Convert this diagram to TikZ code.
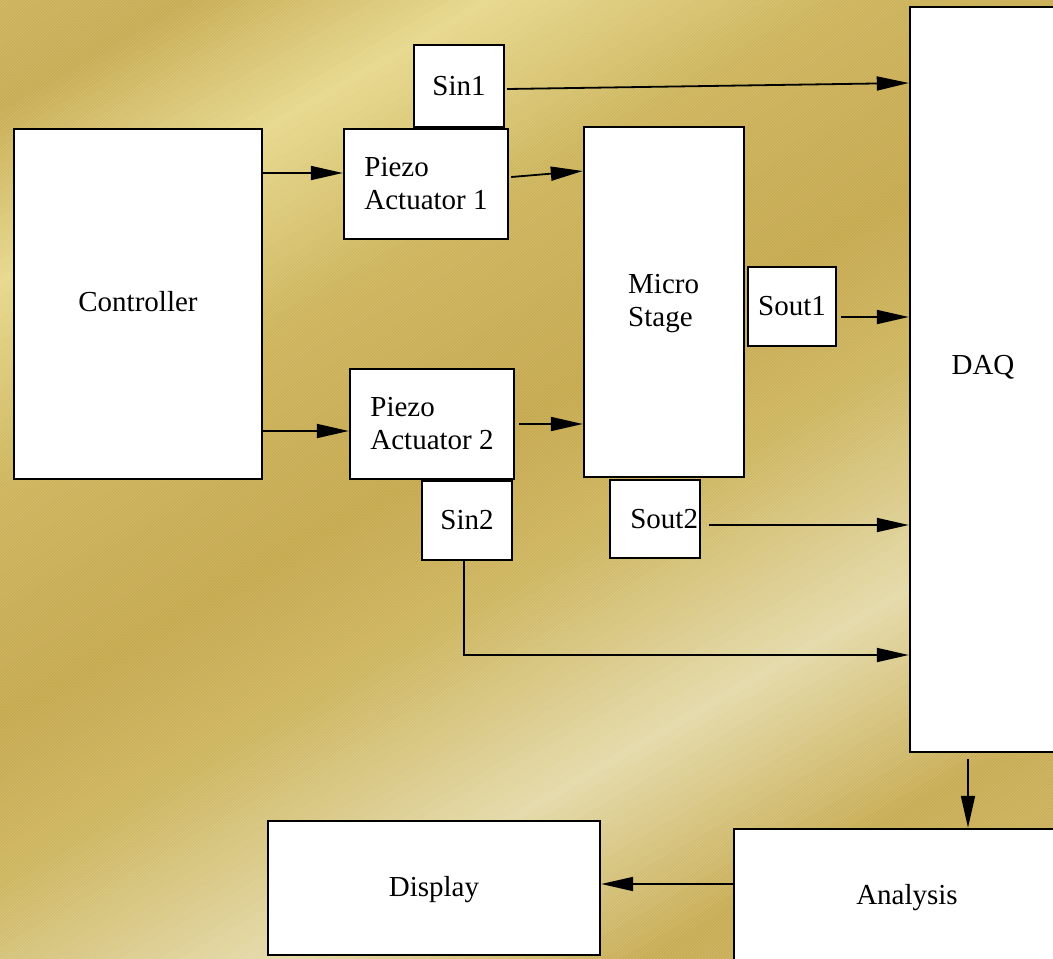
\documentclass[tikz,border=0pt]{standalone}
\usepackage{fontspec}
\setmainfont{Liberation Serif}
\usepackage{xcolor}
\usepackage{tikz}
\usetikzlibrary{arrows.meta, positioning, calc, patterns}

\definecolor{goldA}{RGB}{204,178,90}
\definecolor{goldB}{RGB}{200,172,82}
\definecolor{goldC}{RGB}{230,216,140}
\definecolor{goldD}{RGB}{205,180,90}
\definecolor{goldE}{RGB}{198,168,76}
\definecolor{goldF}{RGB}{206,182,95}
\definecolor{goldG}{RGB}{228,218,168}
\definecolor{goldH}{RGB}{200,172,82}
\definecolor{goldI}{RGB}{212,190,110}

\begin{document}
\begin{tikzpicture}[
			x=1pt, y=-1pt,
			every node/.style={font=\fontsize{29}{33}\selectfont},
			box/.style 2 args={
				rectangle, draw=black, fill=white,
				line width=2.4pt, inner sep=0pt,
				minimum width=#1, minimum height=#2
			},
			txt/.style={inner sep=0pt, align=left},
			arrow/.style={
				-{Triangle[length=32pt,width=14pt]},
				line width=1.8pt, draw=black
			}
			]
			
			\useasboundingbox (0,0) rectangle (1053,959);
			
			% Background
			\begin{scope}
				\clip (0,0) rectangle (1053,959);
				\foreach \pa/\pb/\ca/\cb in {0/90/goldA/goldB, 90/240/goldB/goldC,
					240/420/goldC/goldD, 420/620/goldD/goldE, 620/760/goldE/goldF,
					760/960/goldF/goldG, 960/1150/goldG/goldH, 1150/1420/goldH/goldI}{
					\foreach \t in {0,5,...,95}{
						\pgfmathsetmacro\pp{\pa+(\pb-\pa)/100*\t}
						\pgfmathsetmacro\pq{\pa+(\pb-\pa)/100*(\t+5)+1}
						\fill[\cb!\t!\ca] ({\pp*0.5-1300},{\pp*0.866+750})
						-- ({\pp*0.5+1300},{\pp*0.866-750})
						-- ({\pq*0.5+1300},{\pq*0.866-750})
						-- ({\pq*0.5-1300},{\pq*0.866+750}) -- cycle;
					}
				}
				\fill[pattern=north east lines, pattern color=white, opacity=0.15]
				(0,0) rectangle (1053,959);
			\end{scope}
			
			% Left column
			\node[box={248}{350}, text depth=6pt] (ctrl) at (138,304) {Controller};
			
			% Actuators and sensors in
			\node[box={90}{82}]   (sin1) at (459,86)  {Sin1};
			\node[box={164}{110}, align=left] (pa1) at (426,184) {Piezo\\Actuator 1};
			\node[box={164}{110}, align=left] (pa2) at (432,424) {Piezo\\Actuator 2};
			\node[box={90}{79}]   (sin2) at (467,520.5) {Sin2};
			
			% Stage and sensors out
			\node[box={160}{350}] (ms) at (664,302) {};
			\node[txt, anchor=north west] (mstxt) at (628,274) {Micro\\Stage};
			\node[box={88}{79}]   (sout1) at (792,306.5) {Sout1};
			\node[box={90}{78}, text width=86pt, align=right] (sout2) at (655,519) {Sout2};
			
			% Acquisition and output
			\node[box={146}{745}, text depth=30pt] (daq) at (983,379.5) {DAQ};
			\node[box={346}{134}, text height=24pt] (ana)  at (907,896) {Analysis};
			\node[box={332}{134}, text height=24pt] (disp) at (434,888) {Display};
			
			% Arrows
			\draw[arrow] ([yshift=11pt]ctrl.east |- pa1.west) -- ([yshift=11pt]pa1.west);
			\draw[arrow] ([yshift=-7pt]ctrl.east |- pa2.west) -- ([yshift=-7pt]pa2.west);
			\draw[arrow] ([xshift=2pt,yshift=7pt]pa1.east) -- ([yshift=13pt]pa1.east -| ms.west);
			\draw[arrow] ([xshift=4pt]pa2.east) -- (pa2.east -| ms.west);
			\draw[arrow] ([xshift=2pt,yshift=-3pt]sin1.east) -- ([yshift=3pt]sin1.east -| daq.west);
			\draw[arrow] ([xshift=4pt,yshift=-10.5pt]sout1.east) -- ([yshift=-10.5pt]sout1.east -| daq.west);
			\draw[arrow] ([xshift=8pt,yshift=-6pt]sout2.east) -- ([yshift=-6pt]sout2.east -| daq.west);
			\draw[arrow] ([xshift=-3pt]sin2.south) |- ([yshift=-275.5pt]daq.west);
			\draw[arrow] ([xshift=-15pt,yshift=-6pt]daq.south) -- ([xshift=-15pt]daq.south |- ana.north);
			\draw[arrow] ([yshift=4pt]ana.west |- disp.east) -- ([yshift=4pt]disp.east);
			
		\end{tikzpicture}
\end{document}
